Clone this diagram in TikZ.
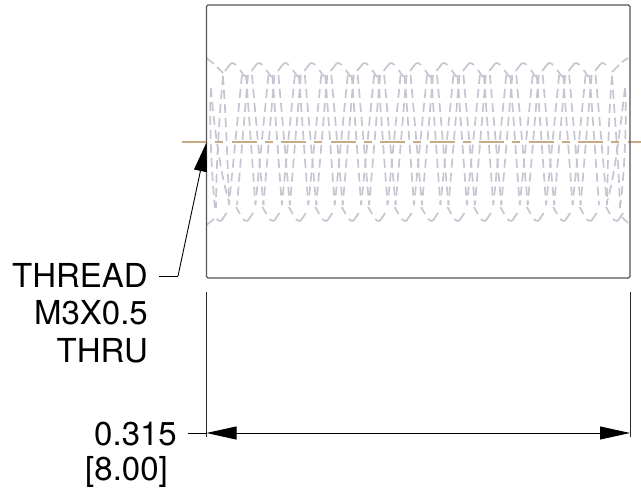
\documentclass[tikz,border=0pt]{standalone}
\usepackage{fontspec}
\setmainfont{TeX Gyre Heros}
\usetikzlibrary{arrows.meta}
\definecolor{threadc}{RGB}{198,198,210}
\definecolor{centerc}{RGB}{200,170,135}
\definecolor{bodyc}{RGB}{85,85,85}
\tikzset{
  threadline/.style={draw=threadc,line width=1.7pt,dash pattern=on 9pt off 5pt},
  threadedge/.style={draw=threadc,line width=1.7pt,rounded corners=2.5pt},
  centerline/.style={draw=centerc,line width=1.2pt,dash pattern=on 25pt off 8pt on 8pt off 8.5pt},
  body/.style={draw=bodyc,line width=1.1pt,rounded corners=1.5pt},
  extline/.style={draw=black!85,line width=.8pt},
  dimline/.style={draw=black,line width=.8pt},
  tipped/.style={-{Triangle[length=30pt,width=13pt,fill=black]}},
  leader/.style={draw=black,line width=.9pt},
  label/.style={font=\fontsize{33}{40}\selectfont,text=black,anchor=base east,inner sep=0pt}
}
\begin{document}
\begin{tikzpicture}[x=1pt,y=-1pt]
\useasboundingbox (0,0) rectangle (641,490);
% thread flanks
\foreach \k [evaluate=\k as \t using 247+26.43*\k, evaluate=\k as \b using 233+26.43*\k, evaluate=\k as \c using 259.43+26.43*\k] in {0,...,13}{
  \draw[threadline] (\t-5,75) -- (\b-4,205);
  \draw[threadline] (\t+1,75) -- (\b+4,205);
  \draw[threadline] (\t-1,75) -- (\c-4,205);
  \draw[threadline] (\t+5,75) -- (\c+4,205);
}
% thread ends
\draw[threadline] (223,76) .. controls (219,120) and (216,170) .. (216,208);
\draw[threadline] (223,76) .. controls (226,120) and (228,170) .. (229,204);
\draw[threadline] (211,88) .. controls (209,110) and (211,170) .. (215,208);
\draw[threadline] (211,88) .. controls (214,130) and (222,180) .. (229,202);
\draw[threadline] (612,76) .. controls (615,120) and (619,170) .. (620,208);
\draw[threadline] (612,76) .. controls (608,120) and (608,170) .. (607,204);
\draw[threadline] (625,88) .. controls (627,110) and (625,170) .. (620,208);
\draw[threadline] (625,88) .. controls (620,130) and (614,180) .. (607,202);
% thread outline, top
\draw[threadedge] (206.5,58) -- (214,64);
\draw[threadedge] (217,67) -- (223,73);
\draw[threadedge] (628,58) -- (622,62);
\draw[threadedge] (619,65) -- (612,72);
\foreach \k [evaluate=\k as \p using 232+26.43*\k] in {0,...,14}{
  \draw[threadedge] (\p-7,71) -- (\p,62) -- (\p+4,65);
}
\foreach \k [evaluate=\k as \p using 232+26.43*\k] in {0,...,13}{
  \draw[threadedge] (\p+8,70) -- (\p+13,77);
}
% thread outline, bottom
\draw[threadedge] (206.5,225) -- (214,219);
\draw[threadedge] (628,223) -- (622,217);
\foreach \k [evaluate=\k as \p using 220.6+26.43*\k] in {0,...,15}{
  \draw[threadedge] (\p-4,219) -- (\p,222) -- (\p+6,213);
}
\foreach \k [evaluate=\k as \p using 247+26.43*\k] in {0,...,14}{
  \draw[threadedge] (\p-11,207) -- (\p-7,214);
}
% centre line
\coordinate (cl) at (182,142);
\coordinate (cr) at (641,142);
\draw[centerline] (cl) -- (cr);
% body
\node[body,inner sep=0pt] (box) at (418.25,141.5) {\tikz[x=1pt,y=1pt]\path (0,0) rectangle (423.5,273);};
% dimension
\coordinate (ela) at (206.5,292);
\coordinate (elb) at (206.5,437);
\coordinate (era) at (630,292);
\coordinate (erb) at (630,437);
\draw[extline] (ela) -- (elb);
\draw[extline] (era) -- (erb);
\coordinate (dl) at (206.5,433);
\coordinate (dr) at (630,433);
\coordinate (dtail) at (188,433);
\draw[dimline] (dtail) -- (dl);
\draw[dimline,tipped] (418,433) -- (dl);
\draw[dimline,tipped] (418,433) -- (dr);
% labels
\node[label] (t1) at (148,287) {THREAD};
\node[label] (t2) at (148,324.5) {M3X0.5};
\node[label] (t3) at (148,362) {THRU};
\node[label] (d1) at (177,445) {0.315};
\node[label] (d2) at (168,480) {[8.00]};
% leader
\coordinate (la) at (159,276);
\coordinate (lb) at (178,276);
\coordinate (lc) at (206.5,142.5);
\draw[leader] (la) -- (lb);
\draw[leader,-{Triangle[length=29pt,width=13pt,fill=black]}] (lb) -- (lc);
\end{tikzpicture}
\end{document}
